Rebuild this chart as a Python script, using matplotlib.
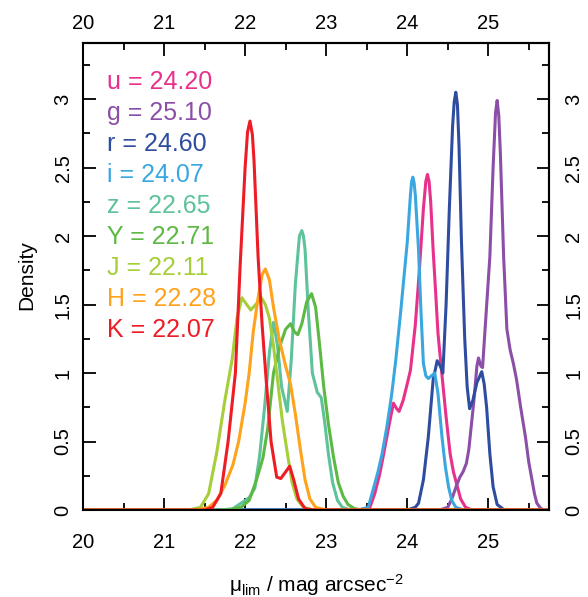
import numpy as np
import matplotlib.pyplot as plt

plt.rcParams['font.family'] = ['Liberation Sans', 'DejaVu Sans']
plt.rcParams['mathtext.fontset'] = 'custom'
plt.rcParams['mathtext.rm'] = 'Liberation Sans'
plt.rcParams['mathtext.it'] = 'Liberation Sans:italic'

# band names, limiting depths and colours
bands = ['u', 'g', 'r', 'i', 'z', 'Y', 'J', 'H', 'K']
depths = ['24.20', '25.10', '24.60', '24.07', '22.65', '22.71', '22.11', '22.28', '22.07']
colors = ['#E8318B', '#8C4FA8', '#2E4DA0', '#3AA7E0', '#5EC29A',
          '#5CB944', '#A6CE39', '#FFA21C', '#EE1C25']

# density curves
u_x = [20.0, 23.4, 23.54, 23.6, 23.66, 23.71, 23.77, 23.83, 23.87, 23.9, 23.95, 24.0, 24.04, 24.1,
       24.15, 24.2, 24.23, 24.25, 24.27, 24.29, 24.32, 24.35, 24.38, 24.43, 24.48, 24.53, 24.57,
       24.61, 24.66, 24.72, 24.8, 25.75]
u_y = [0, 0, 0.02, 0.12, 0.26, 0.41, 0.6, 0.78, 0.74, 0.72, 0.8, 0.92, 1.02, 1.35,
       1.75, 2.2, 2.4, 2.45, 2.4, 2.25, 1.9, 1.6, 1.29, 0.98, 0.68, 0.41, 0.28,
       0.19, 0.08, 0.02, 0, 0]

g_x = [20.0, 24.4, 24.5, 24.55, 24.61, 24.65, 24.69, 24.73, 24.76, 24.82, 24.86, 24.88, 24.91,
       24.93, 24.97, 25.02, 25.06, 25.09, 25.11, 25.13, 25.15, 25.19, 25.23, 25.27, 25.31, 25.35,
       25.4, 25.46, 25.5, 25.54, 25.57, 25.6, 25.65, 25.7, 25.75]
g_y = [0, 0, 0.02, 0.08, 0.18, 0.24, 0.28, 0.34, 0.44, 0.78, 1.05, 1.11, 1.05,
       1.04, 1.4, 1.85, 2.5, 2.9, 2.99, 2.88, 2.6, 1.85, 1.32, 1.17, 1.07, 0.95,
       0.75, 0.53, 0.35, 0.22, 0.12, 0.05, 0.01, 0, 0]

r_x = [20.0, 24.0, 24.1, 24.14, 24.2, 24.26, 24.32, 24.37, 24.41, 24.44, 24.48, 24.52, 24.56,
       24.58, 24.6, 24.62, 24.64, 24.67, 24.71, 24.74, 24.77, 24.81, 24.86, 24.92, 24.95, 24.98,
       25.02, 25.06, 25.11, 25.2, 25.75]
r_y = [0, 0, 0.02, 0.05, 0.22, 0.53, 0.95, 1.09, 1.05, 1.0, 1.5, 2.2, 2.8,
       2.98, 3.05, 2.96, 2.65, 1.95, 1.25, 0.9, 0.74, 0.8, 0.93, 1.01, 0.92, 0.75,
       0.41, 0.17, 0.04, 0, 0]

i_x = [20.0, 23.4, 23.52, 23.58, 23.64, 23.69, 23.75, 23.81, 23.86, 23.92, 24.0, 24.04, 24.055,
       24.07, 24.085, 24.1, 24.14, 24.17, 24.2, 24.23, 24.26, 24.3, 24.34, 24.38, 24.43, 24.47,
       24.51, 24.55, 24.6, 24.7, 25.75]
i_y = [0, 0, 0.02, 0.15, 0.28, 0.41, 0.61, 0.85, 1.1, 1.45, 1.95, 2.3, 2.4,
       2.43, 2.39, 2.3, 1.9, 1.45, 1.07, 0.98, 0.96, 0.98, 1.0, 0.85, 0.53, 0.32,
       0.17, 0.07, 0.02, 0, 0]

z_x = [20.0, 21.7, 21.85, 21.95, 22.05, 22.12, 22.18, 22.24, 22.3, 22.35, 22.4, 22.45, 22.52,
       22.57, 22.62, 22.67, 22.7, 22.72, 22.74, 22.78, 22.83, 22.89, 22.94, 22.98, 23.03, 23.08,
       23.14, 23.2, 23.3, 25.75]
z_y = [0, 0, 0.01, 0.05, 0.09, 0.16, 0.4, 0.75, 1.15, 1.37, 1.2, 0.9, 0.72,
       1.1, 1.65, 2.0, 2.04, 2.0, 1.9, 1.45, 1.0, 0.86, 0.82, 0.65, 0.4, 0.2,
       0.07, 0.02, 0, 0]

Y_x = [20.0, 21.8, 21.95, 22.05, 22.14, 22.22, 22.28, 22.35, 22.43, 22.5, 22.56, 22.61, 22.65,
       22.7, 22.76, 22.82, 22.87, 22.92, 22.97, 23.03, 23.09, 23.15, 23.21, 23.27, 23.35, 23.45,
       25.75]
Y_y = [0, 0, 0.02, 0.07, 0.22, 0.38, 0.6, 1.0, 1.2, 1.32, 1.36, 1.3, 1.28,
       1.36, 1.52, 1.58, 1.48, 1.2, 0.9, 0.62, 0.39, 0.2, 0.1, 0.04, 0.01, 0,
       0]

J_x = [20.0, 21.3, 21.45, 21.55, 21.65, 21.75, 21.84, 21.9, 21.96, 22.02, 22.07, 22.13, 22.2,
       22.25, 22.3, 22.35, 22.4, 22.46, 22.52, 22.58, 22.64, 22.72, 22.85, 25.75]
J_y = [0, 0, 0.02, 0.12, 0.42, 0.8, 1.1, 1.4, 1.55, 1.5, 1.46, 1.5, 1.55,
       1.5, 1.4, 1.2, 0.95, 0.65, 0.42, 0.2, 0.08, 0.02, 0, 0]

H_x = [20.0, 21.4, 21.55, 21.65, 21.75, 21.85, 21.92, 22.0, 22.05, 22.1, 22.16, 22.21, 22.25,
       22.3, 22.35, 22.42, 22.5, 22.56, 22.62, 22.68, 22.74, 22.8, 22.87, 23.0, 25.75]
H_y = [0, 0, 0.02, 0.07, 0.18, 0.33, 0.5, 0.78, 1.0, 1.3, 1.55, 1.72, 1.76,
       1.68, 1.48, 1.25, 1.05, 0.92, 0.7, 0.45, 0.22, 0.08, 0.02, 0, 0]

K_x = [20.0, 21.5, 21.6, 21.7, 21.79, 21.88, 21.94, 22.0, 22.03, 22.06, 22.09, 22.11, 22.16,
       22.21, 22.26, 22.32, 22.39, 22.44, 22.49, 22.55, 22.6, 22.66, 22.74, 22.85, 25.75]
K_y = [0, 0, 0.02, 0.12, 0.5, 1.0, 1.8, 2.5, 2.76, 2.84, 2.74, 2.55, 1.85,
       1.35, 0.95, 0.5, 0.24, 0.23, 0.27, 0.32, 0.22, 0.08, 0.01, 0, 0]

curves = [(u_x, u_y), (g_x, g_y), (r_x, r_y), (i_x, i_y), (z_x, z_y),
          (Y_x, Y_y), (J_x, J_y), (H_x, H_y), (K_x, K_y)]

fig = plt.figure(figsize=(5.88, 5.97), dpi=100)
ax = fig.add_axes([0.1412, 0.1457, 0.7925, 0.7823])

for (xs, ys), c in zip(curves, colors):
    ax.plot(xs, ys, color=c, lw=2.2, solid_joinstyle='round')

ax.set_xlim(20, 25.75)
ax.set_ylim(0, 3.41)

xmaj = np.arange(20, 26, 1)
xmin = np.arange(20.5, 26, 1)
ymaj = [0, 0.5, 1, 1.5, 2, 2.5, 3]
ylab = ['0', '0.5', '1', '1.5', '2', '2.5', '3']
ymin = np.arange(0.25, 3.4, 0.5)

top = ax.secondary_xaxis('top')
right = ax.secondary_yaxis('right')
for a in [ax, top]:
    a.set_xticks(xmaj)
    a.set_xticks(xmin, minor=True)
for a in [ax, right]:
    a.set_yticks(ymaj)
    a.set_yticklabels(ylab)
    a.set_yticks(ymin, minor=True)

for a in [ax, top, right]:
    a.tick_params(which='both', direction='in', width=1.3, labelsize=14.5)
    a.tick_params(which='major', length=9)
    a.tick_params(which='minor', length=5)
    for s in a.spines.values():
        s.set_linewidth(1.5)

ax.tick_params(axis='x', which='major', pad=16.5)
top.tick_params(axis='x', which='major', pad=7)
ax.tick_params(axis='y', which='major', pad=7.5, labelrotation=90)
right.tick_params(axis='y', which='major', pad=11, labelrotation=90)
for lab in ax.get_yticklabels() + right.get_yticklabels():
    lab.set_va('center')

for k, (b, d, c) in enumerate(zip(bands, depths, colors)):
    ax.text(20.30, 3.071 - 0.226 * k, f'{b} = {d}', color=c, fontsize=18, va='baseline')

fig.text(36.5 / 588, 0.5394, 'Density', fontsize=15, rotation=90, ha='right', va='center')
fig.text(316.7 / 588, 5.3 / 597, r'μ$_{\rm lim}$ / mag arcsec$^{-2}$', fontsize=15,
         ha='center', va='baseline')

fig.savefig('out.png', dpi=100)
